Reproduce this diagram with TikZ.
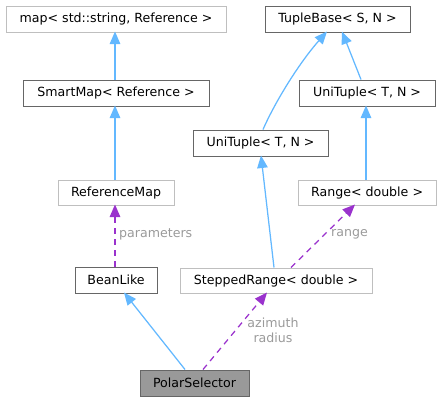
\documentclass[tikz,border=0pt]{standalone}
\usepackage{fontspec}
\setmainfont{DejaVu Sans}
\usetikzlibrary{arrows.meta}
\definecolor{lgray}{HTML}{BFBFBF}
\definecolor{dgray}{HTML}{666666}
\definecolor{sel}{HTML}{999999}
\definecolor{inh}{HTML}{63B8FF}
\definecolor{use}{HTML}{9A32CD}
\definecolor{lbl}{HTML}{9A9A9A}
\begin{document}
\begin{tikzpicture}[x=1pt,y=-1pt,
  font=\fontsize{12.6}{15}\selectfont,
  box/.style={draw=#1,line width=1.1pt,inner sep=0pt,anchor=north west,fill=white},
  inhline/.style={draw=inh,line width=1.25pt,-{Triangle[width=10.5pt,length=12.5pt]}},
  useline/.style={draw=use,line width=1.25pt,dash pattern=on 6pt off 5pt,-{Triangle[width=10.5pt,length=12.5pt]}},
  elabel/.style={text=lbl,inner sep=0pt}]
\useasboundingbox (0,0) rectangle (440,400);
\newcommand{\bx}[6]{\node[box=#6,minimum width=#4-#2,minimum height=#5-#3] (#1) at (#2,#3) {};}
\bx{map}{5.5}{5.5}{225.5}{31.5}{lgray}
\node at (map.center) {map< std::string, Reference >};
\bx{smart}{22.5}{79.5}{208.5}{105.5}{dgray}
\node at (smart.center) {SmartMap< Reference >};
\bx{refmap}{57.5}{179.5}{173.5}{204.5}{lgray}
\node at (refmap.center) {ReferenceMap};
\bx{bean}{74.5}{266.5}{156.5}{292.5}{dgray}
\node at (bean.center) {BeanLike};
\node[draw=dgray,line width=1.1pt,fill=sel,inner sep=0pt,anchor=north west,minimum width=109pt,minimum height=26pt] (polar) at (139.5,369.5) {};
\node at (polar.center) {PolarSelector};
\bx{stepped}{179.5}{267.5}{371.5}{292.5}{lgray}
\node at (stepped.center) {SteppedRange< double >};
\bx{range}{297.5}{179.5}{435.5}{204.5}{lgray}
\node at (range.center) {Range< double >};
\bx{tuplebase}{264.5}{5.5}{409.5}{31.5}{dgray}
\node at (tuplebase.center) {TupleBase< S, N >};
\bx{unir}{298.5}{79.5}{434.5}{105.5}{dgray}
\node at (unir.center) {UniTuple< T, N >};
\bx{unil}{192.5}{129.5}{327.5}{155.5}{dgray}
\node at (unil.center) {UniTuple< T, N >};
% anchor coordinates on box borders
\coordinate (a1) at (115,79.5);  \coordinate (b1) at (115,31.5);
\coordinate (a2) at (115,179.5); \coordinate (b2) at (115,105.5);
\coordinate (a3) at (185,369.5);   \coordinate (b3) at (124,292.5);
\coordinate (a4) at (274,267.5);   \coordinate (b4) at (261,155.5);
\coordinate (a5) at (263,129.5);   \coordinate (b5) at (327,31.5);
\coordinate (a6) at (361,79.5);    \coordinate (b6) at (342,31.5);
\coordinate (a7) at (366,179.5); \coordinate (b7) at (366,105.5);
\coordinate (a8) at (115,266.5); \coordinate (b8) at (115,204.5);
\coordinate (a9) at (203,369.5);   \coordinate (b9) at (267,292.5);
\coordinate (a10) at (291,267.5);  \coordinate (b10) at (355,204.5);
% inheritance edges
\draw[inhline] (a1) -- (b1);
\draw[inhline] (a2) -- (b2);
\draw[inhline] (a3) -- (b3);
\draw[inhline] (a4) -- (b4);
\draw[inhline] (a5) .. controls (276,100) and (300,62) .. (b5);
\draw[inhline] (a6) -- (b6);
\draw[inhline] (a7) -- (b7);
% usage edges
\draw[useline] (a8) -- (b8);
\draw[useline] (a9) -- (b9);
\draw[useline] (a10) -- (b10);
% labels
\node[elabel,anchor=west] (lparam) at (119,234) {parameters};
\node[elabel,anchor=west] (lrange) at (331,234) {range};
\node[elabel,align=center] (lazi) at (273,330) {azimuth\\radius};
\end{tikzpicture}
\end{document}
